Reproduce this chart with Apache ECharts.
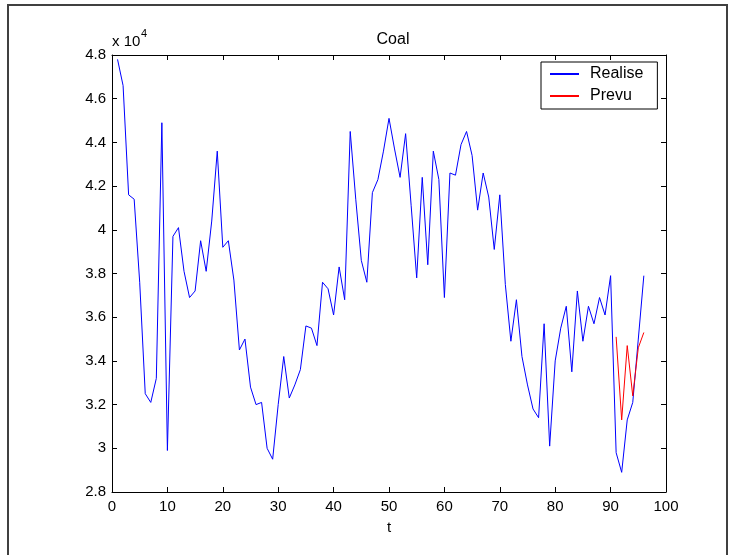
<!DOCTYPE html>
<html>
<head>
<meta charset="utf-8">
<script src="https://cdn.jsdelivr.net/npm/echarts@6/dist/echarts.min.js"></script>
<style>
html,body{margin:0;padding:0;background:#fff;}
#c{width:729px;height:555px;}
</style>
</head>
<body>
<div id="c"></div>
<script>
// Data (values in units, axis shown as x 10^4)
var realiseT = [];
for (var i = 1; i <= 96; i++) realiseT.push(i);
var realise = [
47800,46600,41600,41400,37600,32500,32100,33200,44900,29900,
39700,40100,38100,36900,37200,39500,38100,40400,43600,39200,
39500,37700,34500,35000,32800,32000,32100,30000,29500,32000,
34200,32300,32900,33600,35600,35500,34700,37600,37300,36100,
38300,36800,44500,41400,38600,37600,41700,42300,43600,45100,
43700,42400,44400,41100,37800,42400,38400,43600,42300,36900,
42600,42500,43900,44500,43400,40900,42600,41500,39100,41600,
37500,34900,36800,34200,32900,31800,31400,35700,30100,34000,
35500,36500,33500,37200,34900,36500,35700,36900,36100,37900,
29800,28900,31300,32100,35000,37900
];
var prevuT = [91,92,93,94,95,96];
var prevu = [35100,31300,34700,32400,34600,35300];
var xTicks = {min:0, max:100, interval:10};
var yTicks = {min:28000, max:48000, interval:2000};

function pairs(xs, ys){ return xs.map(function(x,i){ return [x, ys[i]]; }); }

var chart = echarts.init(document.getElementById('c'), null, {renderer:'canvas'});
var font = 'Liberation Sans, Arial, sans-serif';
var axisCommon = function(pos){
  return {
    axisLine:{show:true, onZero:false, lineStyle:{color:'#000', width:1}},
    axisTick:{show:true, inside:true, length:5, lineStyle:{color:'#000'}},
    splitLine:{show:false},
    position: pos
  };
};
var xb = Object.assign(axisCommon('bottom'), {
  type:'value', min:xTicks.min, max:xTicks.max, interval:xTicks.interval,
  axisLabel:{color:'#000', fontSize:15, fontFamily:font, margin:7},
  name:'t', nameLocation:'middle', nameGap:28,
  nameTextStyle:{color:'#000', fontSize:15, fontFamily:font}
});
var xt = Object.assign(axisCommon('top'), {
  type:'value', min:xTicks.min, max:xTicks.max, interval:xTicks.interval,
  axisLabel:{show:false}
});
var yl = Object.assign(axisCommon('left'), {
  type:'value', min:yTicks.min, max:yTicks.max, interval:yTicks.interval,
  axisLabel:{color:'#000', fontSize:15, fontFamily:font, margin:6,
    formatter:function(v){ return String(parseFloat((v/10000).toFixed(1))); }}
});
var yr = Object.assign(axisCommon('right'), {
  type:'value', min:yTicks.min, max:yTicks.max, interval:yTicks.interval,
  axisLabel:{show:false}
});

chart.setOption({
  animation:false,
  backgroundColor:'#fff',
  title:{text:'Coal', left:388, top:27, textAlign:'center',
    textStyle:{color:'#000', fontSize:16, fontWeight:'normal', fontFamily:font}},
  grid:{left:112, right:63, top:55, bottom:63, containLabel:false},
  legend:{
    left:541, top:62, orient:'vertical',
    borderColor:'#000', borderWidth:1, borderRadius:0,
    padding:[4,14,5,8], itemGap:6, itemWidth:29, itemHeight:16,
    itemStyle:{opacity:0},
    textStyle:{color:'#000', fontSize:16, lineHeight:16, fontFamily:font, padding:[0,0,0,6]},
    data:['Realise','Prevu']
  },
  xAxis:[xb, xt],
  yAxis:[yl, yr],
  graphic:[
    {type:'rect', shape:{x:8, y:5, width:719, height:570},
     style:{fill:'none', stroke:'#404040', lineWidth:2}, silent:true, z:-1},
    {type:'text', x:112, y:34, style:{text:'x 10', fill:'#000', fontSize:15, fontFamily:font}},
    {type:'text', x:141, y:28, style:{text:'4', fill:'#000', fontSize:11, fontFamily:font}}
  ],
  series:[
    {name:'Realise', type:'line', xAxisIndex:0, yAxisIndex:0, symbol:'none',
     lineStyle:{color:'#0000ff', width:1}, itemStyle:{color:'#0000ff'},
     data:pairs(realiseT, realise)},
    {name:'Prevu', type:'line', xAxisIndex:0, yAxisIndex:0, symbol:'none',
     lineStyle:{color:'#ff0000', width:1}, itemStyle:{color:'#ff0000'},
     data:pairs(prevuT, prevu)}
  ]
});
</script>
</body>
</html>
